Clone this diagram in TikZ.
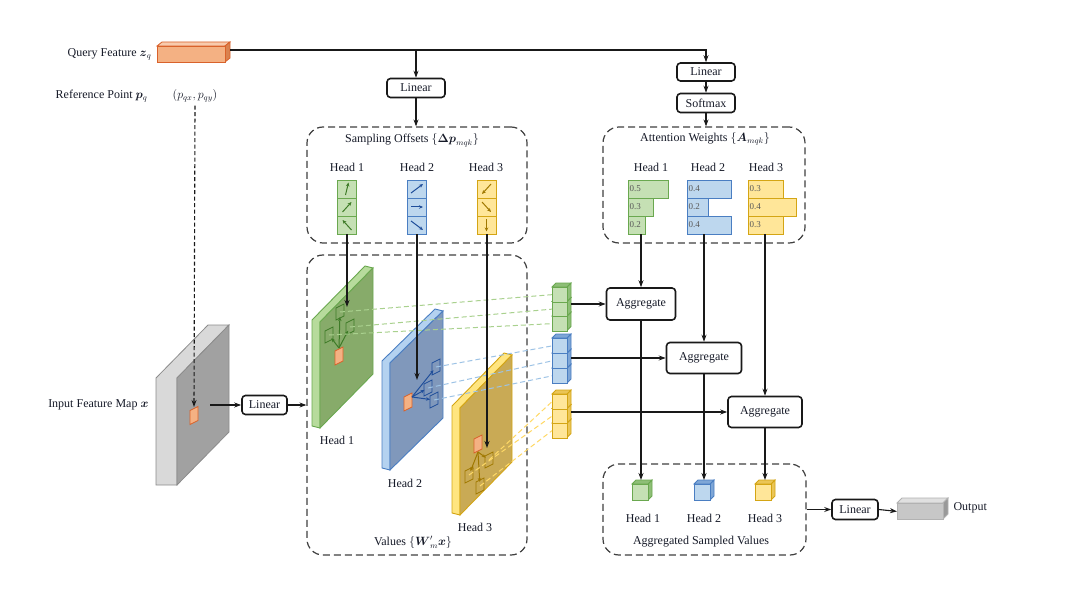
\documentclass[tikz,border=0pt]{standalone}
\usepackage{fontspec}
\setmainfont{Liberation Serif}
\usepackage{amsmath}
\usetikzlibrary{arrows.meta,calc}
\definecolor{txt}{RGB}{22,26,40}
\definecolor{gfill}{HTML}{C5E0B4}
\definecolor{gdraw}{HTML}{6AA84F}
\definecolor{gdark}{HTML}{3E7B27}
\definecolor{gplane}{HTML}{87AB6A}
\definecolor{gstrip}{HTML}{B7DB9C}
\definecolor{gdash}{HTML}{A9D18E}
\definecolor{bfill}{HTML}{BDD7EE}
\definecolor{bdraw}{HTML}{4A7EC2}
\definecolor{bdark}{HTML}{1F4E9A}
\definecolor{bplane}{HTML}{8098BB}
\definecolor{bstrip}{HTML}{B4D2F0}
\definecolor{bdash}{HTML}{9DC3E6}
\definecolor{yfill}{HTML}{FFE699}
\definecolor{ydraw}{HTML}{D4A514}
\definecolor{ydark}{HTML}{A07800}
\definecolor{yplane}{HTML}{C9AA55}
\definecolor{ystrip}{HTML}{FFE580}
\definecolor{ydash}{HTML}{FFD966}
\definecolor{ofill}{HTML}{F4B183}
\definecolor{otop}{HTML}{F8CBAD}
\definecolor{oside}{HTML}{D9824F}
\definecolor{odraw}{HTML}{D9622B}
\newcommand{\mycube}[6]{%
  \draw[#6side] ({#2+#4},#3) -- ++(4,-4) -- ++(0,#5) -- ++(-4,4) -- cycle;
  \draw[#6side] (#2,#3) -- ++(4,-4) -- ++(#4,0) -- ++(-4,4) -- cycle;
  \node[#6face, minimum width=#4, minimum height=#5, anchor=north west, inner sep=0pt] (#1) at (#2,#3) {};
}
\newcommand{\mypatch}[2]{%
  \filldraw[fill=ofill, draw=odraw, line width=0.8pt] ({#1-4},{#2-5}) -- ({#1+4},{#2-9}) -- ({#1+4},{#2+5}) -- ({#1-4},{#2+9}) -- cycle;
}
\newcommand{\mysamp}[3]{%
  \draw[#3, line width=0.8pt] ({#1-4},{#2-4}) -- ({#1+4},{#2-8}) -- ({#1+4},{#2+4}) -- ({#1-4},{#2+8}) -- cycle;
}
\begin{document}
\begin{tikzpicture}[x=1pt,y=-1pt,
  font=\fontsize{12}{14}\selectfont,
  every node/.style={text=txt},
  box/.style={draw=black!90, line width=1.6pt, rounded corners=3.5pt, fill=white, inner sep=0pt},
  dbox/.style={draw=black!75, line width=1.2pt, dash pattern=on 7pt off 4pt, rounded corners=16pt},
  arr/.style={-{Stealth[length=7pt,width=5pt]}, line width=1.1pt, draw=black!90},
  minarr/.style={-{Stealth[length=4pt,width=3.5pt]}, line width=1pt},
  gcell/.style={draw=gdraw, fill=gfill, minimum width=19, minimum height=18, inner sep=0pt, line width=0.9pt},
  bcell/.style={draw=bdraw, fill=bfill, minimum width=19, minimum height=18, inner sep=0pt, line width=0.9pt},
  ycell/.style={draw=ydraw, fill=yfill, minimum width=19, minimum height=18, inner sep=0pt, line width=0.9pt},
  gface/.style={draw=gdraw, fill=gfill, line width=0.8pt},
  gside/.style={draw=gdraw, fill=gdraw!60!gfill, line width=0.8pt},
  bface/.style={draw=bdraw, fill=bfill, line width=0.8pt},
  bside/.style={draw=bdraw, fill=bdraw!55!bfill, line width=0.8pt},
  yface/.style={draw=ydraw, fill=yfill, line width=0.8pt},
  yside/.style={draw=ydraw, fill=ydraw!50!yfill, line width=0.8pt},
  num/.style={font=\fontsize{9}{10}\selectfont, text=black!65, inner sep=1pt},
  gdl/.style={draw=gdash, line width=1pt, dash pattern=on 5pt off 3pt},
  bdl/.style={draw=bdash, line width=1pt, dash pattern=on 5pt off 3pt},
  ydl/.style={draw=ydash, line width=1pt, dash pattern=on 5pt off 3pt},
]
\path[use as bounding box] (0,0) rectangle (1080,591);
\fill[white] (0,0) rectangle (1080,591);

% ---------- dashed group boxes
\node[dbox, minimum width=220, minimum height=116] (soff) at (417,185) {};
\node[dbox, minimum width=202, minimum height=116] (attw) at (704,185) {};
\node[dbox, minimum width=220, minimum height=300] (vals) at (417,405) {};
\node[dbox, minimum width=203, minimum height=91] (aggv) at (704.5,509.5) {};

\node (sofft) at (412,140) {Sampling Offsets $\{\boldsymbol{\Delta p}_{mqk}\}$};
\node (attwt) at (705,139) {Attention Weights $\{\boldsymbol{A}_{mqk}\}$};
\node (valst) at (413,542) {Values $\{\boldsymbol{W}'_m\boldsymbol{x}\}$};
\node (aggvt) at (701,542) {Aggregated Sampled Values};

% ---------- query feature
\filldraw[fill=otop, draw=odraw, line width=0.8pt] (157,46) -- (162,42) -- (230,42) -- (225,46) -- cycle;
\filldraw[fill=oside, draw=odraw, line width=0.8pt] (225,46) -- (230,42) -- (230,58) -- (225,62) -- cycle;
\node[draw=odraw, fill=ofill, line width=0.8pt, minimum width=68, minimum height=16, inner sep=0pt, anchor=north west] (qbar) at (157,46) {};
\coordinate (qout) at (230,50);
\node[anchor=east] (qlbl) at (155,54) {Query Feature $\boldsymbol{z}_q$};
\node[anchor=east] (rlbl) at (151,96) {Reference Point $\boldsymbol{p}_q$};
\node (pqxy) at (195,96) {$(p_{qx}, p_{qy})$};

\node[box, minimum width=58, minimum height=19] (lin1) at (416,88) {Linear};
\node[box, minimum width=58, minimum height=18] (lin2) at (706,72) {Linear};
\node[box, minimum width=58, minimum height=19] (smax) at (706,103) {Softmax};

\draw[arr] (qout) -| (lin2.north);
\draw[arr] (lin1.north |- qout) -- (lin1.north);
\draw[arr] (lin1.south) -- (lin1.south |- soff.north);
\draw[arr] (lin2.south) -- (smax.north);
\draw[arr] (smax.south) -- (smax.south |- attw.north);

% ---------- sampling offsets
\node (oh1) at (347,167) {Head 1};
\node (oh2) at (417,167) {Head 2};
\node (oh3) at (486,167) {Head 3};
\node[gcell] (o11) at (347,189) {};
\node[gcell] (o12) at (347,207) {};
\node[gcell] (o13) at (347,225) {};
\node[bcell] (o21) at (417,189) {};
\node[bcell] (o22) at (417,207) {};
\node[bcell] (o23) at (417,225) {};
\node[ycell] (o31) at (486.5,189) {};
\node[ycell] (o32) at (486.5,207) {};
\node[ycell] (o33) at (486.5,225) {};
\draw[minarr, gdark] ([shift={(-1.5,6)}]o11.center) -- ([shift={(1.5,-6.5)}]o11.center);
\draw[minarr, gdark] ([shift={(-4.5,5)}]o12.center) -- ([shift={(4.5,-5)}]o12.center);
\draw[minarr, gdark] ([shift={(4.5,5)}]o13.center) -- ([shift={(-4.5,-5)}]o13.center);
\draw[minarr, bdark] ([shift={(-6,4)}]o21.center) -- ([shift={(6,-5)}]o21.center);
\draw[minarr, bdark] ([shift={(-6,0)}]o22.center) -- ([shift={(6,0)}]o22.center);
\draw[minarr, bdark] ([shift={(-6,-4)}]o23.center) -- ([shift={(6,5)}]o23.center);
\draw[minarr, ydark] ([shift={(4.5,-5)}]o31.center) -- ([shift={(-4.5,5)}]o31.center);
\draw[minarr, ydark] ([shift={(-4.5,-5)}]o32.center) -- ([shift={(4.5,5)}]o32.center);
\draw[minarr, ydark] ([shift={(0,-6)}]o33.center) -- ([shift={(0,6.5)}]o33.center);

% ---------- attention weights
\node (ah1) at (651,167) {Head 1};
\node (ah2) at (708,167) {Head 2};
\node (ah3) at (766,167) {Head 3};
\node[gface, minimum width=40, minimum height=18, inner sep=0pt, anchor=west] (a11) at (628,189) {};
\node[gface, minimum width=25, minimum height=18, inner sep=0pt, anchor=west] (a12) at (628,207) {};
\node[gface, minimum width=17, minimum height=18, inner sep=0pt, anchor=west] (a13) at (628,225) {};
\node[bface, minimum width=44, minimum height=18, inner sep=0pt, anchor=west] (a21) at (687,189) {};
\node[bface, minimum width=21, minimum height=18, inner sep=0pt, anchor=west] (a22) at (687,207) {};
\node[bface, minimum width=44, minimum height=18, inner sep=0pt, anchor=west] (a23) at (687,225) {};
\node[yface, minimum width=35, minimum height=18, inner sep=0pt, anchor=west] (a31) at (748,189) {};
\node[yface, minimum width=48, minimum height=18, inner sep=0pt, anchor=west] (a32) at (748,207) {};
\node[yface, minimum width=35, minimum height=18, inner sep=0pt, anchor=west] (a33) at (748,225) {};
\node[num, anchor=west] at ([xshift=0.5]a11.west) {0.5};
\node[num, anchor=west] at ([xshift=0.5]a12.west) {0.3};
\node[num, anchor=west] at ([xshift=0.5]a13.west) {0.2};
\node[num, anchor=west] at ([xshift=0.5]a21.west) {0.4};
\node[num, anchor=west] at ([xshift=0.5]a22.west) {0.2};
\node[num, anchor=west] at ([xshift=0.5]a23.west) {0.4};
\node[num, anchor=west] at ([xshift=0.5]a31.west) {0.3};
\node[num, anchor=west] at ([xshift=0.5]a32.west) {0.4};
\node[num, anchor=west] at ([xshift=0.5]a33.west) {0.3};

% ---------- input feature map
\filldraw[fill=black!15, draw=black!45, line width=0.8pt] (156,378) -- (208,325) -- (229,325) -- (177,378) -- (177,485) -- (156,485) -- cycle;
\filldraw[fill=black!37, draw=black!45, line width=0.8pt] (177,378) -- (229,325) -- (229,432) -- (177,485) -- cycle;
\mypatch{194}{415.5}
\coordinate (gptop) at (194,407);
\coordinate (gout) at (210,405);
\node[anchor=east] (inlbl) at (152,405) {Input Feature Map $\boldsymbol{x}$};
\node[box, minimum width=45, minimum height=19] (linin) at (264.5,405) {Linear};
\draw[arr, dash pattern=on 4pt off 2.5pt] (pqxy.south) -- (gptop);
\draw[arr] (gout) -- (linin.west);
\draw[arr] (linin.east) -- (linin.east -| vals.west);

% ---------- value planes
\filldraw[fill=gstrip, draw=gdraw, line width=0.9pt] (312,320) -- (365,266) -- (373,268) -- (320,322) -- (320,428) -- (312,426) -- cycle;
\filldraw[fill=gplane, draw=gdraw, line width=0.9pt] (320,322) -- (373,268) -- (373,374) -- (320,428) -- cycle;
\filldraw[fill=bstrip, draw=bdraw, line width=0.9pt] (382,361) -- (435,309) -- (443,311) -- (390,363) -- (390,470) -- (382,468) -- cycle;
\filldraw[fill=bplane, draw=bdraw, line width=0.9pt] (390,363) -- (443,311) -- (443,418) -- (390,470) -- cycle;
\filldraw[fill=ystrip, draw=ydraw, line width=0.9pt] (452,406) -- (504,353) -- (512,355) -- (460,408) -- (460,515) -- (452,513) -- cycle;
\filldraw[fill=yplane, draw=ydraw, line width=0.9pt] (460,408) -- (512,355) -- (512,462) -- (460,515) -- cycle;
\node (vh1) at (337,440) {Head 1};
\node (vh2) at (405,483) {Head 2};
\node (vh3) at (475,527) {Head 3};

% samples in green plane
\mypatch{339}{356}
\mysamp{340}{312}{gdark}
\mysamp{329}{335}{gdark}
\mysamp{350}{327}{gdark}
\coordinate (gp) at (339,348);
\coordinate (gs1) at (340,312);
\coordinate (gs2) at (329,335);
\coordinate (gs3) at (350,327);
\draw[minarr, gdark, shorten >=5pt] (gp) -- (gs1);
\draw[minarr, gdark, shorten >=4pt] (gp) -- (gs2);
\draw[minarr, gdark, shorten >=4pt] (gp) -- (gs3);
% samples in blue plane
\mypatch{408}{402}
\mysamp{436}{367}{bdark}
\mysamp{428}{388}{bdark}
\mysamp{434}{400}{bdark}
\coordinate (bp) at (412,397);
\coordinate (bs1) at (436,367);
\coordinate (bs2) at (428,388);
\coordinate (bs3) at (434,400);
\draw[minarr, bdark, shorten >=4pt] (bp) -- (bs1);
\draw[minarr, bdark, shorten >=4pt] (bp) -- (bs2);
\draw[minarr, bdark, shorten >=4pt] (bp) -- (bs3);
% samples in yellow plane
\mypatch{478}{444}
\mysamp{489}{460}{ydark}
\mysamp{469}{475}{ydark}
\mysamp{480}{486}{ydark}
\coordinate (yp) at (478,452);
\coordinate (ys1) at (489,460);
\coordinate (ys2) at (469,475);
\coordinate (ys3) at (480,486);
\draw[minarr, ydark, shorten >=4pt] (yp) -- (ys1);
\draw[minarr, ydark, shorten >=4pt] (yp) -- (ys2);
\draw[minarr, ydark, shorten >=4pt] (yp) -- (ys3);

% ---------- sampled value stacks
\mycube{gc3}{552}{316}{15}{14.5}{g}
\mycube{gc2}{552}{301.5}{15}{14.5}{g}
\mycube{gc1}{552}{287}{15}{14.5}{g}
\mycube{bc3}{552}{368}{15}{15}{b}
\mycube{bc2}{552}{353}{15}{15}{b}
\mycube{bc1}{552}{338}{15}{15}{b}
\mycube{yc3}{552}{423}{15}{14.5}{y}
\mycube{yc2}{552}{408.5}{15}{14.5}{y}
\mycube{yc1}{552}{394}{15}{14.5}{y}
\node[inner sep=0pt, minimum width=19, minimum height=43.5, anchor=north west] (gstack) at (552,287) {};
\node[inner sep=0pt, minimum width=19, minimum height=45, anchor=north west] (bstack) at (552,338) {};
\node[inner sep=0pt, minimum width=19, minimum height=43.5, anchor=north west] (ystack) at (552,394) {};

\draw[gdl] (gs1) -- (gc1.west);
\draw[gdl] (gs3) -- (gc2.west);
\draw[gdl] (gs2) -- (gc3.west);
\draw[bdl] (bs1) -- (bc1.west);
\draw[bdl] (bs2) -- (bc2.west);
\draw[bdl] (bs3) -- (bc3.west);
\draw[ydl] (ys1) -- (yc1.west);
\draw[ydl] (ys2) -- (yc2.west);
\draw[ydl] (ys3) -- (yc3.west);

% offsets into planes
\coordinate (t1) at (347,307);
\coordinate (t2) at (417,380);
\coordinate (t3) at (487,448);
\draw[arr] (o13.south) -- (t1);
\draw[arr] (o23.south) -- (t2);
\draw[arr] ([xshift=0.5]o33.south) -- (t3);

% ---------- aggregate
\node[box, minimum width=69, minimum height=32] (agg1) at (641,304) {Aggregate};
\node[box, minimum width=75, minimum height=31] (agg2) at (704,358) {Aggregate};
\node[box, minimum width=74, minimum height=31] (agg3) at (765,412) {Aggregate};
\draw[arr] (agg1.north |- a13.south) -- (agg1.north);
\draw[arr] (agg2.north |- a23.south) -- (agg2.north);
\draw[arr] (agg3.north |- a33.south) -- (agg3.north);
\draw[arr] (gstack.east |- agg1.west) -- (agg1.west);
\draw[arr] (bstack.east |- agg2.west) -- (agg2.west);
\draw[arr] (ystack.east |- agg3.west) -- (agg3.west);

% ---------- aggregated sampled values
\mycube{oc1}{632}{484}{16}{16}{g}
\mycube{oc2}{694}{484}{16}{16}{b}
\mycube{oc3}{755}{484}{16}{16}{y}
\coordinate (otop) at (700,480);
\draw[arr] (agg1.south) -- (agg1.south |- otop);
\draw[arr] (agg2.south) -- (agg2.south |- otop);
\draw[arr] (agg3.south) -- (agg3.south |- otop);
\node (gh1) at (643,518) {Head 1};
\node (gh2) at (704,518) {Head 2};
\node (gh3) at (765,518) {Head 3};

% ---------- output
\node[box, minimum width=46, minimum height=20] (linout) at (855,509.5) {Linear};
\filldraw[fill=black!12, draw=black!30, line width=0.8pt] (897,503) -- (902,498) -- (948,498) -- (943,503) -- cycle;
\filldraw[fill=black!40, draw=black!30, line width=0.8pt] (943,503) -- (948,498) -- (948,514) -- (943,519) -- cycle;
\node[draw=black!30, fill=black!22, line width=0.8pt, minimum width=46, minimum height=16, inner sep=0pt, anchor=north west] (obar) at (897,503) {};
\node[anchor=west] (olbl) at (950,508) {Output};
\draw[arr] (aggv.east) -- (linout.west);
\draw[arr] (linout.east) -- (obar.west);
\end{tikzpicture}
\end{document}
